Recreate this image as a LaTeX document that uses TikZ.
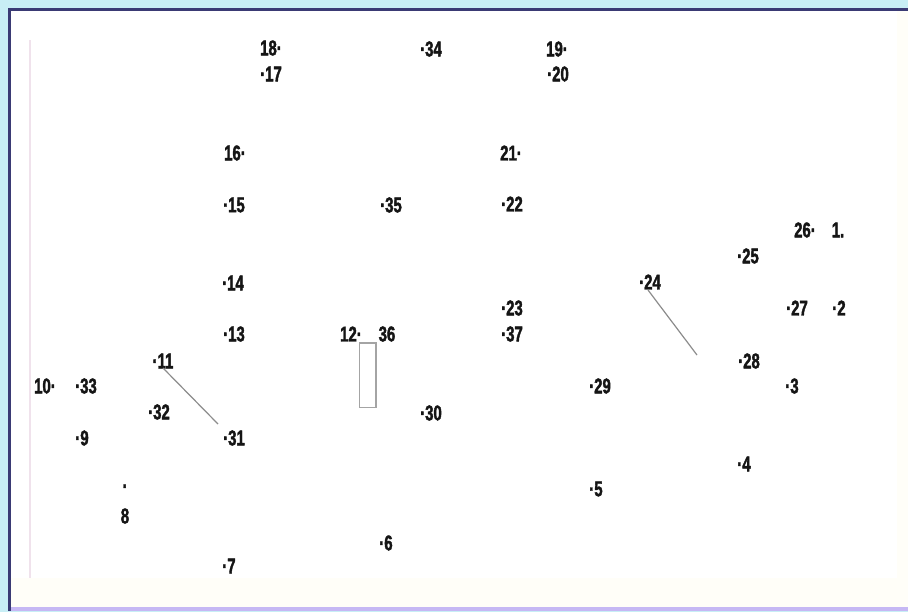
\documentclass[tikz,border=0pt]{standalone}
\usepackage{fontspec}
\newfontfamily\lblfont[FakeStretch=0.7,FakeBold=1.8,BoldFont={* Bold}]{Liberation Sans}
\definecolor{framecyan}{HTML}{C8EEF5}
\definecolor{framenavy}{HTML}{3A3A74}
\definecolor{framelav}{HTML}{C6B8F4}
\definecolor{creamy}{HTML}{FFFEF8}
\definecolor{faintline}{HTML}{F0E2EC}
\definecolor{inkgrey}{HTML}{151515}
\definecolor{connline}{HTML}{8C8C8C}
\definecolor{boxgrey}{HTML}{A4A4A4}
\tikzset{
  lab/.style={font=\lblfont\bfseries\fontsize{16}{16}\selectfont, inner sep=0pt, text=inkgrey},
  conn/.style={draw=connline, line width=0.9pt},
  barbox/.style={draw=boxgrey, line width=1.1pt, fill=white, inner sep=0pt, minimum width=12.4pt, minimum height=48.4pt}
}
\begin{document}
\begin{tikzpicture}[x=0.75pt,y=-0.75pt]
\useasboundingbox (0,0) rectangle (908,612);
% frame
\fill[framecyan] (0,0) rectangle (908,612);
\fill[white] (10,11) rectangle (908,607);
\fill[creamy] (897,11) rectangle (908,607);
\fill[creamy] (10,578) rectangle (908,607);
\fill[framenavy] (8,8) rectangle (908,11);
\fill[framenavy] (8,8) rectangle (10.5,611);
\fill[framelav] (10.5,607) rectangle (908,611);
\draw[faintline, line width=1.2pt] (30,40) -- (30,578);
% labels
\node[lab] (n18) at (271,48) {18·};
\node[lab] (n17) at (271,74) {·17};
\node[lab] (n34) at (431,49) {·34};
\node[lab] (n19) at (557,49) {19·};
\node[lab] (n20) at (558,74) {·20};
\node[lab] (n16) at (235,153) {16·};
\node[lab] (n21) at (511,153) {21·};
\node[lab] (n15) at (234,205) {·15};
\node[lab] (n35) at (391,205) {·35};
\node[lab] (n22) at (512,204) {·22};
\node[lab] (n26) at (805,230) {26·};
\node[lab] (n1) at (838,230) {1.};
\node[lab] (n25) at (748,256) {·25};
\node[lab] (n24) at (650,282) {·24};
\node[lab] (n14) at (233,283) {·14};
\node[lab] (n23) at (512,308) {·23};
\node[lab] (n27) at (797,308) {·27};
\node[lab] (n2) at (839,308) {·2};
\node[lab] (n13) at (234,334) {·13};
\node[lab] (n12) at (351,334) {12·};
\node[lab] (n36) at (387,334) {36};
\node[lab] (n37) at (512,334) {·37};
\node[lab] (n11) at (163,361) {·11};
\node[lab] (n28) at (749,361) {·28};
\node[lab] (n10) at (45,386) {10·};
\node[lab] (n33) at (86,386) {·33};
\node[lab] (n29) at (600,386) {·29};
\node[lab] (n3) at (792,386) {·3};
\node[lab] (n32) at (159,412) {·32};
\node[lab] (n30) at (431,413) {·30};
\node[lab] (n9) at (82,438) {·9};
\node[lab] (n31) at (234,438) {·31};
\node[lab] (n4) at (744,464) {·4};
\node[lab] (n8dot) at (125,489) {·};
\node[lab] (n8) at (125,516) {8};
\node[lab] (n5) at (596,489) {·5};
\node[lab] (n6) at (386,543) {·6};
\node[lab] (n7) at (229,566) {·7};
% bar
\node[barbox] (bar) at (367.75,375.25) {};
% connectors
\coordinate (a1) at (163,368);
\coordinate (a2) at (218,424);
\coordinate (b1) at (648,290);
\coordinate (b2) at (697,355);
\draw[conn] (a1) -- (a2);
\draw[conn] (b1) -- (b2);
\end{tikzpicture}
\end{document}
